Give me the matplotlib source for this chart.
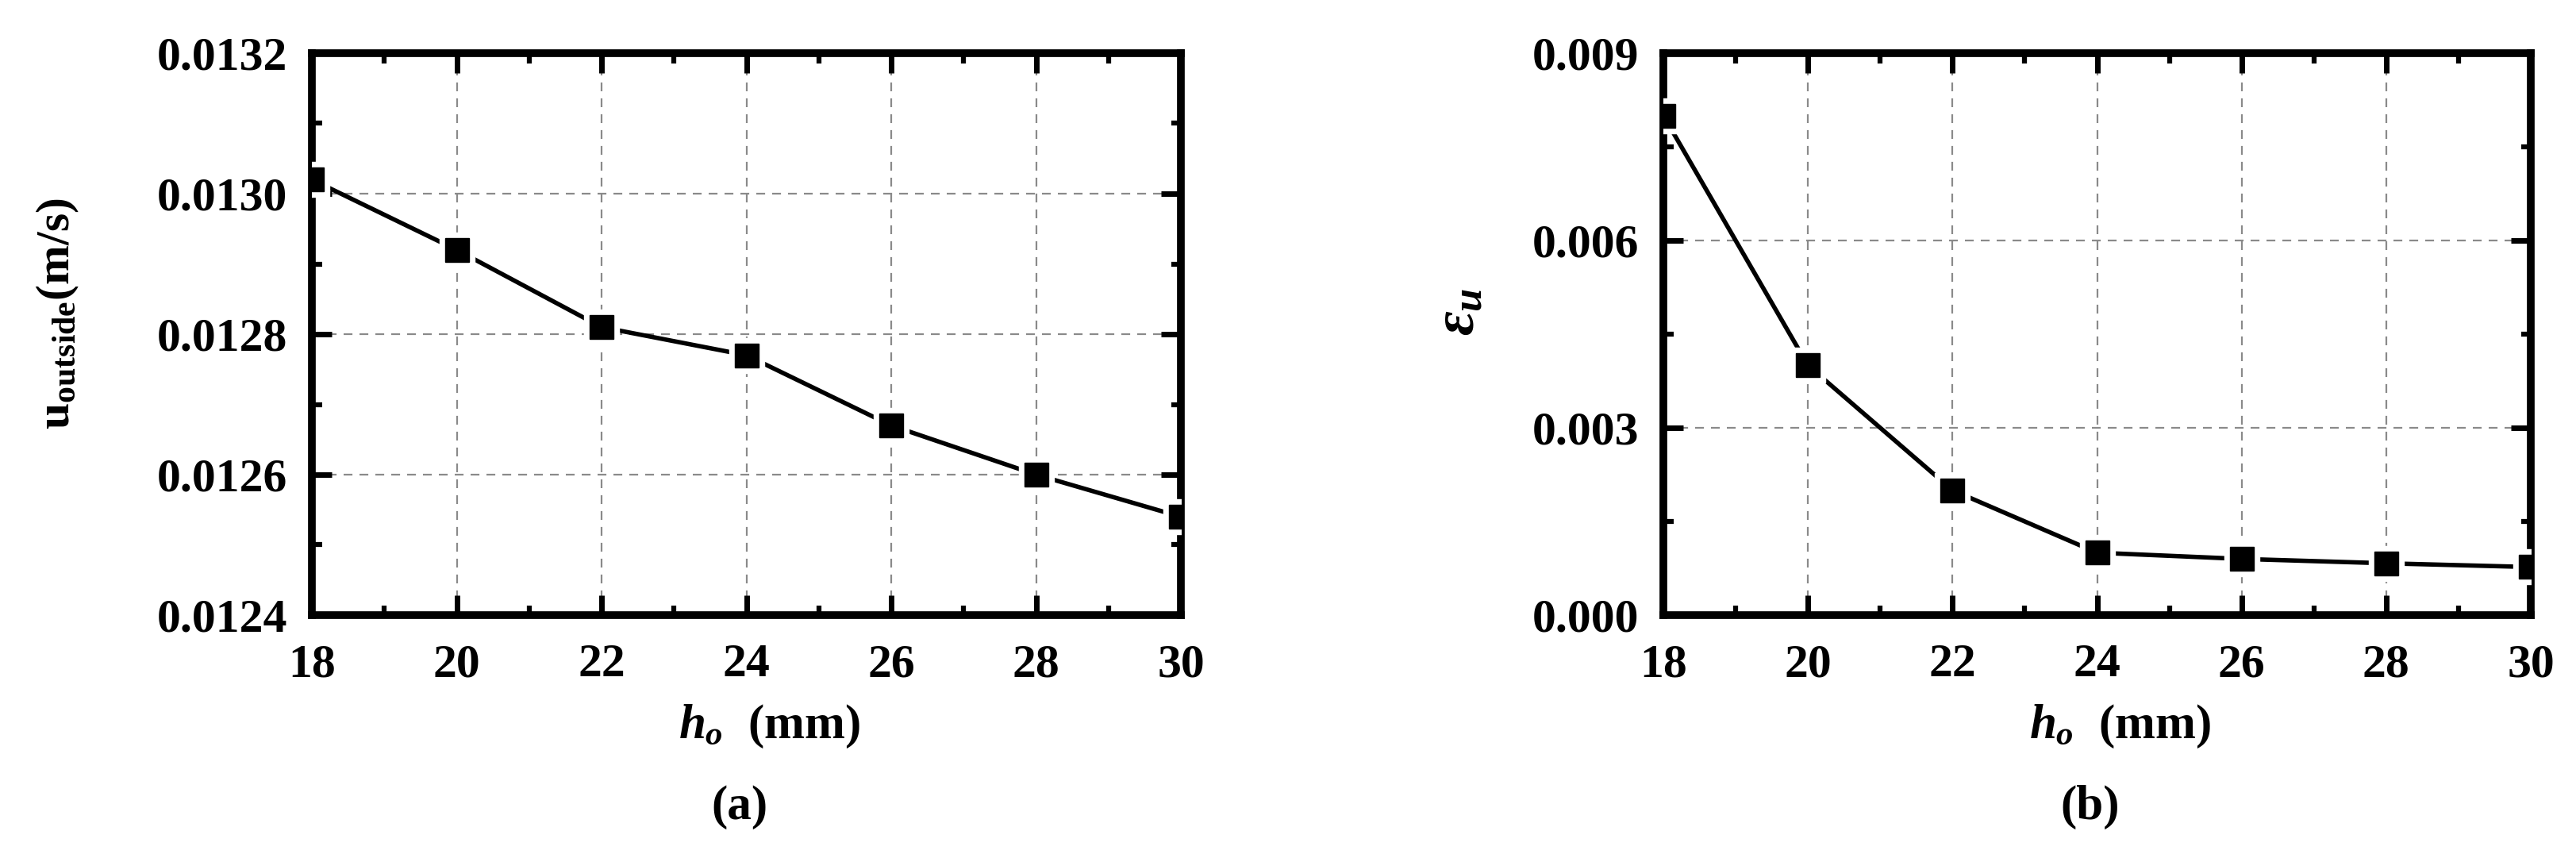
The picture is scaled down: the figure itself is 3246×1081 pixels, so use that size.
import matplotlib
matplotlib.use("Agg")
import matplotlib.pyplot as plt
from matplotlib.ticker import MultipleLocator, FormatStrFormatter

plt.rcParams['font.family'] = ['Liberation Serif', 'DejaVu Serif']
plt.rcParams['font.weight'] = 'bold'
plt.rcParams['mathtext.fontset'] = 'custom'
plt.rcParams['mathtext.rm'] = 'Liberation Serif:bold'
plt.rcParams['mathtext.it'] = 'Liberation Serif:italic:bold'
plt.rcParams['mathtext.bf'] = 'Liberation Serif:bold'

# ---- data ----
h_o = [18, 20, 22, 24, 26, 28, 30]
u_outside = [0.01302, 0.01292, 0.01281, 0.01277, 0.01267, 0.01260, 0.01254]
eps_u = [0.0080, 0.0040, 0.0020, 0.0010, 0.0009, 0.00083, 0.00077]

x_ticks = [18, 20, 22, 24, 26, 28, 30]
ya_ticks = [0.0124, 0.0126, 0.0128, 0.0130, 0.0132]
yb_ticks = [0.000, 0.003, 0.006, 0.009]

W, H = 3246, 1081
DPI = 100
fig = plt.figure(figsize=(W / DPI, H / DPI), dpi=DPI)

def px_axes(l, t, r, b):
    return fig.add_axes([l / W, 1 - b / H, (r - l) / W, (b - t) / H])

axA = px_axes(393, 67, 1488, 775)
axB = px_axes(2096, 67, 3189, 775)

def style(ax, yticks, ymin, ymax, yminor, yfmt):
    ax.set_xlim(18, 30)
    ax.set_ylim(ymin, ymax)
    ax.set_xticks(x_ticks)
    ax.set_yticks(yticks)
    ax.xaxis.set_minor_locator(MultipleLocator(1))
    ax.yaxis.set_minor_locator(MultipleLocator(yminor))
    ax.yaxis.set_major_formatter(FormatStrFormatter(yfmt))
    ax.tick_params(which='both', direction='in', top=True, right=True,
                   labelsize=43)
    ax.tick_params(which='major', length=18, width=5)
    ax.tick_params(which='minor', length=9, width=4.5)
    ax.tick_params(axis='x', which='major', pad=26)
    ax.tick_params(axis='y', which='major', pad=22)
    for lab in ax.get_xticklabels() + ax.get_yticklabels():
        lab.set_fontweight('bold')
    for s in ax.spines.values():
        s.set_linewidth(7)
    ax.grid(True, which='major', color='#8a8a8a', linewidth=1.6,
            linestyle=(0, (5, 4)))
    ax.set_axisbelow(True)

def draw(ax, y):
    ax.plot(h_o, y, color='black', linewidth=4, zorder=3)
    ax.plot(h_o, y, linestyle='none', marker='s', markersize=31,
            markerfacecolor='white', markeredgecolor='white', zorder=4)
    ax.plot(h_o, y, linestyle='none', marker='s', markersize=21.5,
            markerfacecolor='black', markeredgecolor='black', zorder=5)

style(axA, ya_ticks, 0.0124, 0.0132, 0.0001, '%.4f')
style(axB, yb_ticks, 0.0, 0.009, 0.0015, '%.3f')
draw(axA, u_outside)
draw(axB, eps_u)

for ax in (axA, axB):
    ax.set_xlabel(r'$h_o$  (mm)', fontsize=44, fontweight='bold')
    ax.xaxis.label.set_va('center')
    ax.xaxis.set_label_coords(0.527, -0.198)

axA.set_ylabel(r'$\mathbf{u_{outside}}$(m/s)', fontsize=43, fontweight='bold')
axA.yaxis.set_label_coords(-0.266, 0.537)
axB.set_ylabel(r'$\varepsilon_u$', fontsize=54)
axB.yaxis.set_label_coords(-0.204, 0.54)

fig.text(932 / W, 1 - 1017 / H, '(a)', fontsize=44, fontweight='bold',
         ha='center', va='center')
fig.text(2634 / W, 1 - 1017 / H, '(b)', fontsize=44, fontweight='bold',
         ha='center', va='center')

fig.savefig('out.png', dpi=DPI, facecolor='white')
